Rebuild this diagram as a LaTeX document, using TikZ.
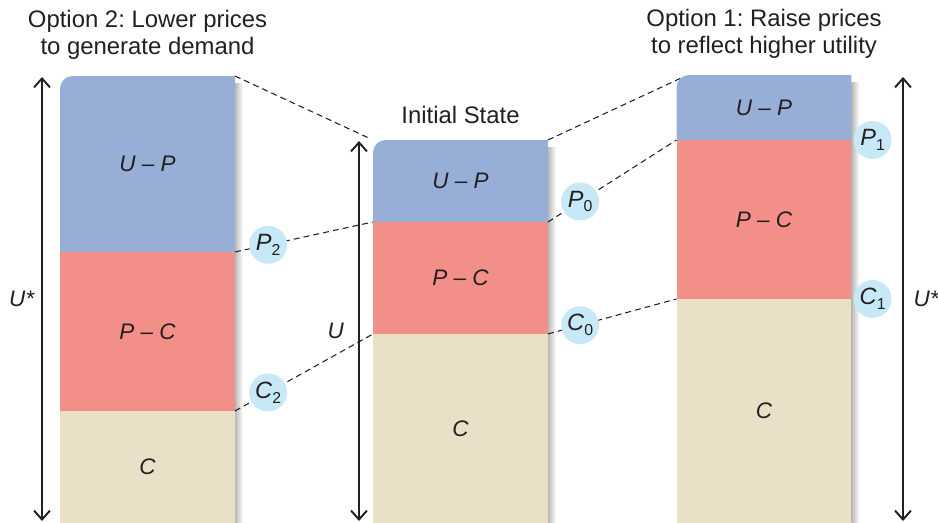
\documentclass[tikz,border=0pt]{standalone}
\usepackage{fontspec}
\setmainfont{Liberation Sans}
\usetikzlibrary{arrows.meta, positioning}
\definecolor{cUP}{RGB}{151,174,215}
\definecolor{cPC}{RGB}{243,143,137}
\definecolor{cC}{RGB}{232,224,199}
\definecolor{cMark}{RGB}{199,233,247}
\definecolor{cInk}{RGB}{35,31,32}
\pgfdeclarelayer{bg}
\pgfsetlayers{bg,main}
\newcommand{\pricelab}[2]{\textit{#1}\raisebox{-2.8pt}{\fontsize{9}{10}\selectfont #2}}
\frenchspacing

\begin{document}
\begin{tikzpicture}[x=0.02cm, y=-0.02cm,
        seg/.style={rectangle, inner sep=0pt, outer sep=0pt, minimum width=3.5cm,
        text=cInk, font=\fontsize{12.8}{14}\selectfont\itshape},
        title/.style={align=center, inner sep=0pt, text=cInk,
        font=\fontsize{13.6}{15.3}\selectfont},
        pmark/.style={circle, fill=cMark, minimum size=0.76cm, inner sep=0pt,
        text=cInk, font=\fontsize{13.4}{14}\selectfont},
        link/.style={cInk, line width=0.6pt, dash pattern=on 3.4pt off 2.3pt},
        span/.style={{Straight Barb[length=1.8mm, width=3.2mm]}-{Straight Barb[length=1.8mm, width=3.2mm]},
        line width=1.1pt, cInk},
        spanlab/.style={inner sep=0pt, text=cInk, font=\fontsize{12.8}{14}\selectfont\itshape}
    ]
        \useasboundingbox (0,0) rectangle (938,523);

        % --- Option 2 (left) ---
        \node[seg, minimum height=3.52cm] (lup) at (147.5,164) {U – P};
        \node[seg, fill=cPC, minimum height=3.18cm, below=0pt of lup] (lpc) {P – C};
        \node[seg, fill=cC,  minimum height=2.24cm, below=0pt of lpc] (lc)  {C};

        % --- Initial state (middle) ---
        \node[seg, minimum height=1.64cm] (mup) at (460.5,181) {U – P};
        \node[seg, fill=cPC, minimum height=2.24cm, below=0pt of mup] (mpc) {P – C};
        \node[seg, fill=cC,  minimum height=3.78cm, below=0pt of mpc] (mc)  {C};

        % --- Option 1 (right) ---
        \node[seg, minimum height=1.30cm] (rup) at (764,107.5) {U – P};
        \node[seg, fill=cPC, minimum height=3.18cm, below=0pt of rup] (rpc) {P – C};
        \node[seg, fill=cC,  minimum height=4.48cm, below=0pt of rpc] (rc)  {C};

        % top blocks: rounded top-left corner, shadow on the right
        \begin{pgfonlayer}{bg}
            \foreach \k in {l,m,r} {
                \shade[left color=black!28, right color=white]
                    ([yshift=-4.5pt]\k up.north east) rectangle ([xshift=4.5pt]\k c.south east);
                \fill[cUP] (\k up.south west) [rounded corners=0.25cm] -- (\k up.north west)
                    [sharp corners] -- (\k up.north east) -- (\k up.south east) -- cycle;
            }
        \end{pgfonlayer}

        \node[title, above=0.32cm of lup] (ltitle) {Option 2: Lower prices\\to generate demand};
        \node[title, above=0.32cm of mup] (mtitle) {Initial State};
        \node[title, above=0.32cm of rup] (rtitle) {Option 1: Raise prices\\to reflect higher utility};

        % --- dashed links ---
        \draw[link, shorten >=3pt] (lup.north east) -- (mup.north west);
        \draw[link] (mup.north east) -- ([xshift=2pt, yshift=-2pt]rup.north west);
        \draw[link] (lup.south east) -- node[pmark, pos=0.24] (p2) {\pricelab{P}{2}} (mup.south west);
        \draw[link] (lpc.south east) -- node[pmark, pos=0.24] (c2) {\pricelab{C}{2}} (mpc.south west);
        \draw[link] (mup.south east) -- node[pmark, pos=0.25] (p0) {\pricelab{P}{0}} (rup.south west);
        \draw[link] (mpc.south east) -- node[pmark, pos=0.25] (c0) {\pricelab{C}{0}} (rpc.south west);
        \node[pmark, right=1pt of rup.south east] (p1) {\pricelab{P}{1}};
        \node[pmark, right=1pt of rpc.south east] (c1) {\pricelab{C}{1}};

        % --- utility spans ---
        \coordinate (ltop) at (42,77);
        \coordinate (lbot) at (42,521);
        \coordinate (mtop) at (359,141);
        \coordinate (mbot) at (359,521);
        \coordinate (rtop) at (903,77);
        \coordinate (rbot) at (903,521);
        \draw[span] (ltop) -- node[spanlab, midway, left=4pt]  (lu) {U*} (lbot);
        \draw[span] (mtop) -- node[spanlab, midway, left=8pt]  (mu) {U}  (mbot);
        \draw[span] (rtop) -- node[spanlab, midway, right=5.5pt] (ru) {U*} (rbot);

    \end{tikzpicture}
\end{document}
